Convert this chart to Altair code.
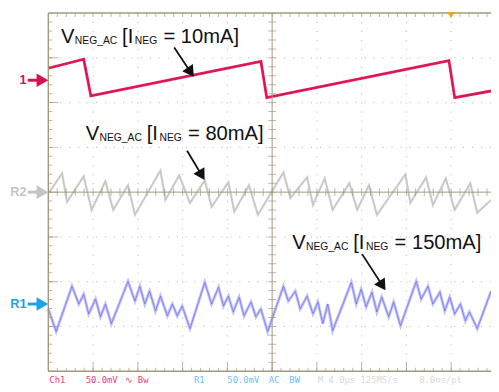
import altair as alt
import numpy as np
import pandas as pd

# ---------------- data read from the scope screen ----------------
# time in µs (4 µs/div), amplitude in mV relative to each channel's marker (50 mV/div)
ch1_t = [0.0, 0.96, 3.16, 3.80, 19.00, 19.52, 35.80, 36.32, 39.56]
ch1_mv = [13.5, 16.5, 23.5, -17.5, 21.0, -19.5, 22.0, -19.5, -12.0]

r2_t = [0.09, 1.23, 1.67, 3.16, 3.87, 5.10, 5.80, 7.12, 7.74, 10.02, 10.46, 11.69,
        12.66, 13.98, 14.59, 16.09, 16.62, 17.93, 18.73, 21.01, 21.63, 23.12, 23.65,
        24.70, 25.41, 26.90, 27.60, 28.66, 29.36, 31.91, 32.35, 33.76, 34.37, 35.52,
        36.31, 37.71, 38.33, 39.56]
r2_mv = [0.0, 20.9, -11.0, 17.6, -19.8, 12.1, -19.8, 7.7, -25.3, 24.2, -8.8, 18.7,
         -12.1, 13.2, -16.5, 11.0, -22.0, 7.7, -25.3, 22.0, -6.6, 16.5, -14.3,
         15.4, -19.8, 9.9, -19.8, 7.7, -25.3, 19.8, -12.1, 16.5, -14.3, 15.4,
         -19.8, 9.9, -23.1, -8.8]

r1_t = [0.0, 0.70, 2.11, 2.73, 3.16, 3.60, 4.22, 4.66, 5.10, 5.63, 7.12, 7.74, 8.18,
        8.62, 9.05, 9.58, 10.02, 10.64, 11.08, 11.52, 11.96, 12.66, 13.98, 14.59,
        15.21, 15.65, 16.09, 16.53, 17.05, 17.49, 18.11, 18.55, 18.99, 19.60, 21.01,
        21.45, 22.07, 22.51, 23.12, 23.65, 24.09, 24.53, 24.97, 25.41, 27.08, 27.52,
        27.96, 28.40, 28.92, 29.36, 29.80, 30.42, 30.86, 31.47, 32.88, 33.32, 33.93,
        34.37, 34.99, 35.43, 35.87, 36.31, 36.83, 37.27, 37.63, 38.33, 39.56]
r1_mv = [-5.5, -30.8, 19.8, 0.0, 11.0, -11.0, 5.5, -14.3, 0.0, -22.0, 25.3, 3.3, 19.8,
         0.0, 14.3, -7.7, 8.8, -13.2, 0.0, -13.2, -2.2, -27.5, 24.2, 0.0,
         18.7, -2.2, 8.8, -8.8, 7.7, -13.2, 2.2, -14.3, -5.5, -30.8, 19.8,
         3.3, 14.3, -5.5, 8.8, -11.0, 2.2, -22.0, 0.0, -29.7, 24.2, 0.0,
         16.5, -3.3, 13.2, -8.8, 7.7, -14.3, 2.2, -24.2, 25.3, 5.5, 19.8,
         0.0, 13.2, -7.7, 7.7, -11.0, 0.0, -18.7, -8.8, -27.5, 14.3]

MV_PER_DIV = 50.0
offsets = {"ch1": 2.5, "r2": 0.0, "r1": -2.5}   # marker levels, divisions from centre

# annotation labels (anchor of the "V", baseline), in µs / divisions
lab_cur = ["10mA", "80mA", "150mA"]
lab_x = [1.14, 3.34, 21.80]
lab_y = [3.34, 1.165, -1.275]

# annotation arrows: tail and head centre, µs / divisions
arr_x1 = [11.25, 12.40, 28.04]
arr_y1 = [3.23, 0.923, -1.385]
arr_x2 = [12.72, 13.71, 29.86]
arr_y2 = [2.68, 0.376, -2.088]
arr_ang = [146, 149, 147]

trigger_t = 35.98

marker_labels = ["1", "R2", "R1"]
marker_levels = [2.5, 0.0, -2.5]
marker_colors = ["#d9114f", "#c4c4c4", "#19a3e8"]

status_items = [("Ch1", 50, "#e8407a"), ("50.0mV", 87, "#e8407a"), ("\u223f", 127, "#e8407a"),
                ("Bw", 140, "#e8407a"), ("R1", 197, "#6cc0f4"), ("50.0mV", 231, "#6cc0f4"),
                ("AC", 273, "#6cc0f4"), ("BW", 294, "#6cc0f4"),
                ("M 4.0\u00b5s 125MS/s", 323, "#d8d8d8"), ("8.0ns/pt", 426, "#d8d8d8")]

# ---------------- scales ----------------
X_MAX = 39.56
xscale = alt.Scale(domain=[0, X_MAX], nice=False, zero=False)
yscale = alt.Scale(domain=[-4, 4], nice=False, zero=False)


def X(f):
    return alt.X(f, type="quantitative", scale=xscale, axis=None)


def Y(f):
    return alt.Y(f, type="quantitative", scale=yscale, axis=None)


def XD(v):
    return alt.XDatum(v, scale=xscale, axis=None, type="quantitative")


def YD(v):
    return alt.YDatum(v, scale=yscale, axis=None, type="quantitative")


TAN = "#a39a7c"
DOT = "#b9b199"
one = pd.DataFrame({"a": [0]})

layers = []

# dotted graticule
vx = pd.DataFrame({"x": [4, 8, 12, 16, 24, 28, 32, 36]})
hy = pd.DataFrame({"y": [-3, -2, -1, 1, 2, 3]})
layers.append(alt.Chart(vx).mark_rule(color=DOT, strokeWidth=1, strokeDash=[1, 8.1]).encode(x=X("x")))
layers.append(alt.Chart(hy).mark_rule(color=DOT, strokeWidth=1, strokeDash=[1, 8.1]).encode(y=Y("y")))


def trace_df(t, mv, off):
    return pd.DataFrame({"t": t, "mv": mv, "off": off})


ch1 = trace_df(ch1_t, ch1_mv, offsets["ch1"])
r2 = trace_df(r2_t, r2_mv, offsets["r2"])
r1 = trace_df(r1_t, r1_mv, offsets["r1"])
ycalc = f"datum.off + datum.mv / {MV_PER_DIV}"

layers.append(alt.Chart(r2).transform_calculate(y=ycalc).mark_line(color="#d3d3d3", strokeWidth=2.3).encode(x=X("t"), y=Y("y")))
layers.append(alt.Chart(r2).transform_calculate(y=ycalc).mark_line(color="#a0a0b2", strokeWidth=0.5, opacity=0.6).encode(x=X("t"), y=Y("y")))
layers.append(alt.Chart(r1).transform_calculate(y=ycalc).mark_line(color="#c2c2f9", strokeWidth=3.0).encode(x=X("t"), y=Y("y")))
layers.append(alt.Chart(r1).transform_calculate(y=ycalc).mark_line(color="#4646e4", strokeWidth=0.7, opacity=0.7).encode(x=X("t"), y=Y("y")))
layers.append(alt.Chart(ch1).transform_calculate(y=ycalc).mark_line(color="#e8195a", strokeWidth=2.8).encode(x=X("t"), y=Y("y")))
layers.append(alt.Chart(ch1).transform_calculate(y=ycalc).mark_line(color="#a8103c", strokeWidth=0.6, opacity=0.5).encode(x=X("t"), y=Y("y")))

# solid graticule: edges and centre cross
layers.append(alt.Chart(one).mark_rule(color=TAN, strokeWidth=1.5).encode(x=XD(0)))
layers.append(alt.Chart(one).mark_rule(color=TAN, strokeWidth=1.5).encode(y=YD(4)))
layers.append(alt.Chart(one).mark_rule(color=TAN, strokeWidth=1.5).encode(y=YD(-4)))
layers.append(alt.Chart(one).mark_rule(color=TAN, strokeWidth=1).encode(x=XD(20)))
layers.append(alt.Chart(one).mark_rule(color=TAN, strokeWidth=1).encode(y=YD(0)))

xminor = pd.DataFrame({"x": np.round(np.arange(0, X_MAX, 0.8), 2)})
xmajor = pd.DataFrame({"x": [4, 8, 12, 16, 20, 24, 28, 32, 36]})
yminor = pd.DataFrame({"y": np.round(np.arange(-4, 4.01, 0.2), 2)})
ymajor = pd.DataFrame({"y": [-3, -2, -1, 0, 1, 2, 3]})

tick = dict(color=TAN, thickness=1, clip=True)
layers.append(alt.Chart(xminor).mark_tick(orient="vertical", size=8, **tick).encode(x=X("x"), y=YD(4)))
layers.append(alt.Chart(xminor).mark_tick(orient="vertical", size=7, **tick).encode(x=X("x"), y=YD(-4)))
layers.append(alt.Chart(xmajor).mark_tick(orient="vertical", size=18, **tick).encode(x=X("x"), y=YD(-4)))
layers.append(alt.Chart(xminor).mark_tick(orient="vertical", size=8, **tick).encode(x=X("x"), y=YD(0)))
layers.append(alt.Chart(yminor).mark_tick(orient="horizontal", size=8, **tick).encode(y=Y("y"), x=XD(0)))
layers.append(alt.Chart(ymajor).mark_tick(orient="horizontal", size=20, **tick).encode(y=Y("y"), x=XD(0)))
layers.append(alt.Chart(yminor).mark_tick(orient="horizontal", size=8, **tick).encode(y=Y("y"), x=XD(20)))

# annotation labels  V_NEG_AC [I_NEG = xxmA]
lab = pd.DataFrame({"x": lab_x, "y": lab_y, "cur": lab_cur})
FONT = "Liberation Sans"
big = dict(font=FONT, fontSize=20.5, align="left", baseline="alphabetic", color="#111111")
small = dict(font=FONT, fontSize=10.5, align="left", baseline="alphabetic", color="#111111")
base = alt.Chart(lab).encode(x=X("x"), y=Y("y"))
layers.append(base.mark_text(text="V", dx=0, **big))
layers.append(base.mark_text(text="NEG_AC", dx=14, dy=1, **small))
layers.append(base.mark_text(text="[I", dx=62, **big))
layers.append(base.mark_text(text="NEG", dx=75, dy=1, **small))
layers.append(base.transform_calculate(txt="'= ' + datum.cur + ']'").mark_text(dx=104, **big).encode(text="txt:N"))

# annotation arrows
arr = pd.DataFrame({"x1": arr_x1, "y1": arr_y1, "x2": arr_x2, "y2": arr_y2, "ang": arr_ang})
layers.append(alt.Chart(arr).mark_rule(color="#111111", strokeWidth=1.8).encode(
    x=X("x1"), y=Y("y1"), x2="x2:Q", y2="y2:Q"))
layers.append(alt.Chart(arr).mark_point(shape="triangle-up", filled=True, size=170, opacity=1, color="#111111").encode(
    x=X("x2"), y=Y("y2"), angle=alt.Angle("ang:Q", scale=None)))

# channel markers on the left
mk = pd.DataFrame({"label": marker_labels, "lvl": marker_levels, "col": marker_colors})
layers.append(alt.Chart(mk).mark_text(font=FONT, fontSize=13, fontWeight="bold", align="right", baseline="middle").encode(
    x=alt.value(-22), y=Y("lvl"), text="label:N", color=alt.Color("col:N", scale=None)))
layers.append(alt.Chart(mk).mark_rule(strokeWidth=3).encode(
    x=alt.value(-21), x2=alt.value(-10), y=Y("lvl"), color=alt.Color("col:N", scale=None)))
layers.append(alt.Chart(mk).mark_point(shape="triangle-right", filled=True, size=190, opacity=1).encode(
    x=alt.value(-6), y=Y("lvl"), color=alt.Color("col:N", scale=None)))

# trigger position marker
layers.append(alt.Chart(pd.DataFrame({"t": [trigger_t]})).mark_point(
    shape="triangle-down", filled=True, size=55, opacity=1, color="#f7a21b", yOffset=2).encode(x=X("t"), y=YD(4)))

# status line under the graticule
for txt, px, col in status_items:
    layers.append(alt.Chart(one).mark_text(text=txt, font="DejaVu Sans Mono", fontSize=9, align="left",
                                           baseline="middle", color=col).encode(
        x=alt.value(px - 49), y=alt.value(373.5)))

chart = alt.layer(*layers).properties(
    width=450, height=364,
    padding={"left": 41, "top": 2, "right": 0, "bottom": 18},
    autosize=alt.AutoSizeParams(type="none"),
    background="white",
).configure_view(stroke=None)

chart.save("out.html", embed_options={"renderer": "svg", "actions": False})
